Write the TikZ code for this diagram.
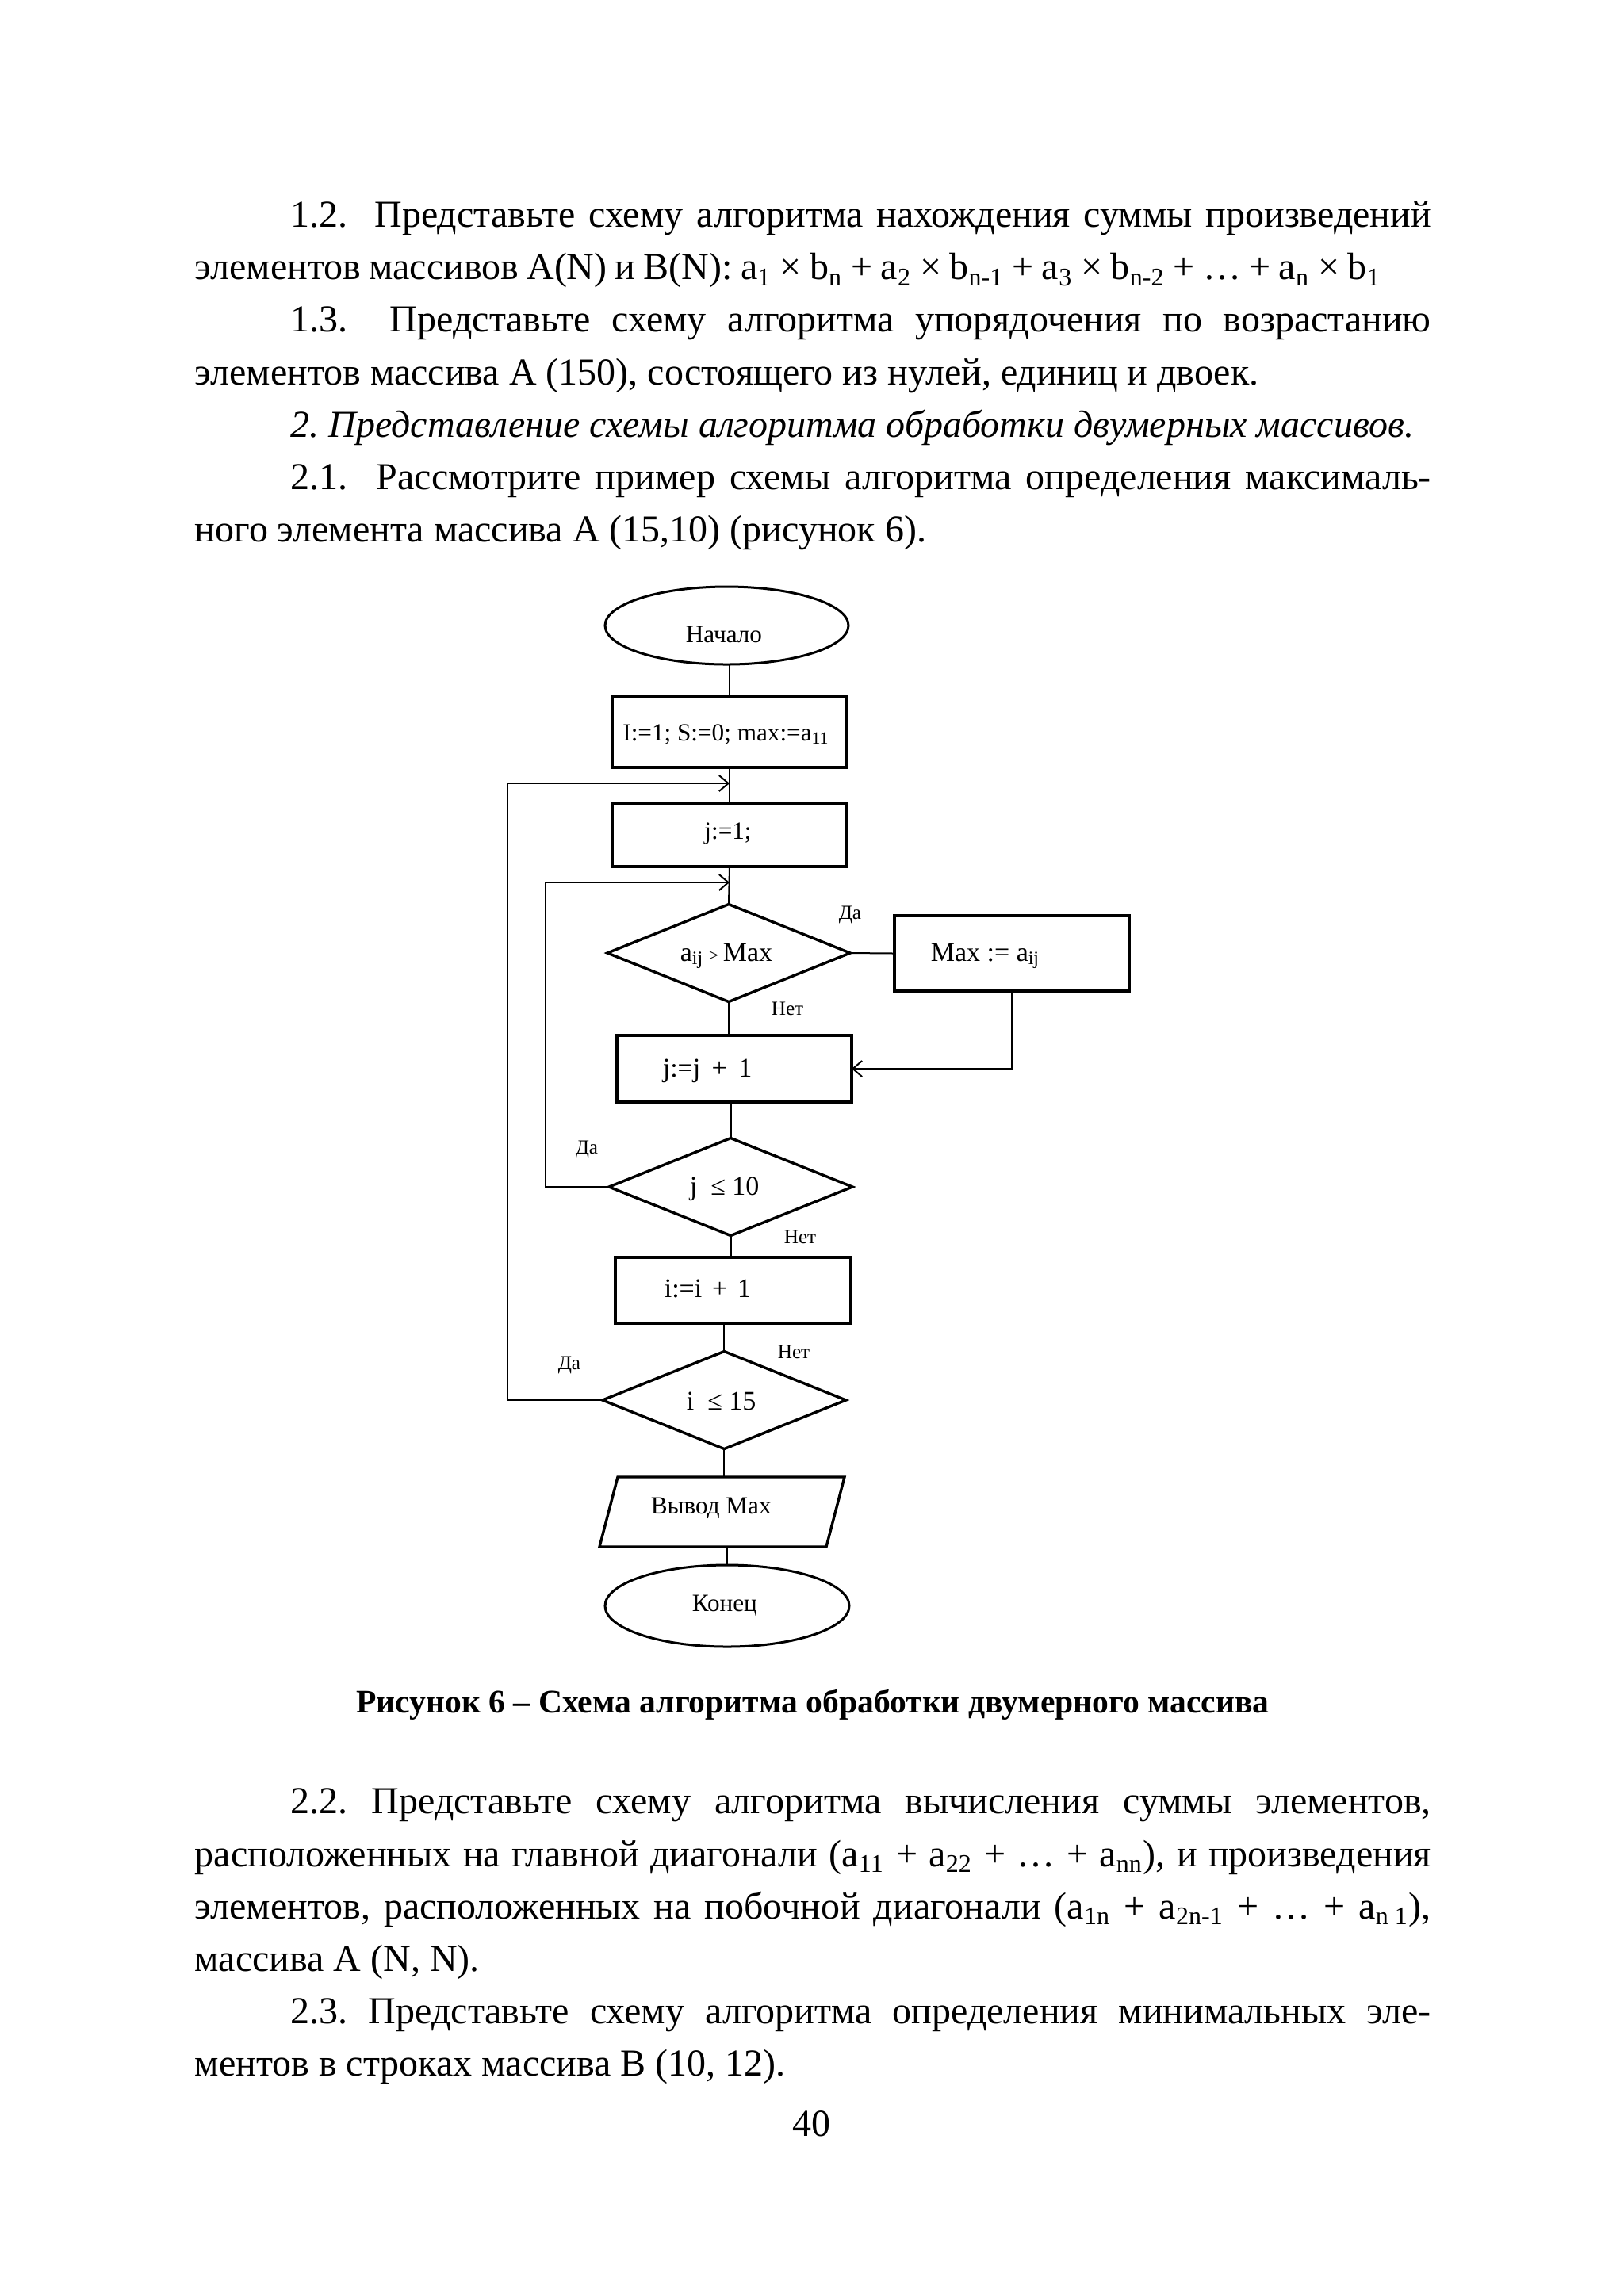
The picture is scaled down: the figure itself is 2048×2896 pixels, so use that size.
\documentclass[tikz,border=0pt]{standalone}
\usepackage{fontspec}
\setmainfont{Liberation Serif}
\usetikzlibrary{shapes.geometric,arrows.meta}
\newcommand\myBody{\fontsize{12pt}{14pt}\selectfont}
\newcommand\myCap{\fontsize{10.4pt}{12pt}\selectfont\bfseries}
\newcommand\myFlow{\fontsize{7.8pt}{9pt}\selectfont}
\newcommand\myFlowB{\fontsize{8.5pt}{10pt}\selectfont}
\newcommand\myLab{\fontsize{6.3pt}{7pt}\selectfont}
\frenchspacing
\begin{document}
\begin{tikzpicture}[x=0.25pt,y=-0.25pt,
  shp/.style={draw,line width=0.85pt,inner sep=0pt,outer sep=0pt},
  rbox/.style={shp,rectangle},
  oval/.style={shp,ellipse,line width=0.75pt},
  dia/.style={shp,diamond},
  conn/.style={line width=0.5pt},
  arr/.style={conn,-{Straight Barb[length=2.9pt,width=5pt]}},
  body/.style={anchor=base west,inner sep=0pt,font=\myBody},
  ft/.style={inner sep=0pt,font=\myFlow},
  ftb/.style={inner sep=0pt,font=\myFlowB},
  lab/.style={anchor=base west,inner sep=0pt,font=\myLab}]
\fill[white] (0,0) rectangle (2048,2896);
\useasboundingbox (0,0) rectangle (2048,2896);

% ---------- upper text ----------
\node[body] (l1) at (366,286.7) {\makebox[359.5pt][s]{1.2.\ \ Представьте схему алгоритма нахождения суммы произведений}};
\node[body] (l2) at (245,352.8) {\makebox[374pt][s]{элементов массивов A(N) и B(N): a\textsubscript{1} × b\textsubscript{n} + a\textsubscript{2} × b\textsubscript{n-1} + a\textsubscript{3} × b\textsubscript{n-2} + … + a\textsubscript{n} × b\textsubscript{1}}};
\node[body] (l3) at (366,418.9) {\makebox[359.5pt][s]{1.3.\ \ Представьте схему алгоритма упорядочения по возрастанию}};
\node[body] (l4) at (245,485) {элементов массива А (150), состоящего из нулей, единиц и двоек.};
\node[body] (l5) at (366,551.1) {\itshape 2. Представление схемы алгоритма обработки двумерных массивов.};
\node[body] (l6) at (366,617.3) {\makebox[359.5pt][s]{2.1.\ \ Рассмотрите пример схемы алгоритма определения максималь-}};
\node[body] (l7) at (245,683.4) {ного элемента массива А (15,10) (рисунок 6).};

% ---------- flowchart shapes ----------
\node[oval,minimum width=76.75pt,minimum height=24.5pt] (start) at (916.5,789) {};
\node[rbox,minimum width=74pt,minimum height=22.25pt] (b1) at (920,923.5) {};
\node[rbox,minimum width=74pt,minimum height=20pt] (b2) at (920,1053) {};
\node[dia,minimum width=76.5pt,minimum height=30.75pt] (d1) at (919,1202) {};
\node[rbox,minimum width=74pt,minimum height=23.75pt] (mx) at (1276,1202.5) {};
\node[rbox,minimum width=74pt,minimum height=21pt] (b3) at (926,1348) {};
\node[dia,minimum width=76.75pt,minimum height=30.75pt] (d2) at (921.5,1497) {};
\node[rbox,minimum width=74.25pt,minimum height=20.75pt] (b4) at (924.5,1627.5) {};
\node[dia,minimum width=76.75pt,minimum height=30.75pt] (d3) at (913.3,1766) {};
\node[inner sep=0pt,outer sep=0pt,minimum width=71.5pt,minimum height=22pt] (io) at (910.5,1907) {};
\draw[line width=0.85pt,line join=miter]
  ([xshift=-2.875pt]io.south west) -- ([xshift=-2.875pt]io.south east)
  -- ([xshift=2.875pt]io.north east) -- ([xshift=2.875pt]io.north west) -- cycle;
\node[oval,minimum width=77pt,minimum height=25.75pt] (end) at (917,2025.5) {};

% ---------- flowchart texts ----------
\node[ft,anchor=base] (tstart) at (913,810) {Начало};
\node[ft,anchor=base] (tb1) at (916,934) {I:=1; S:=0; max:=a\textsubscript{11}};
\node[ft,anchor=base] (tb2) at (918,1058) {j:=1;};
\node[ftb,anchor=base] (td1) at (916,1212) {a\textsubscript{ij}\,{\fontsize{5.5pt}{6pt}\selectfont >}\,Max};
\node[ftb,anchor=base west] (tmx) at (1173,1212) {Max := a\textsubscript{ij}};
\node[ftb,anchor=base west] (tb3) at (835,1358) {j:=j\hspace{3.6pt}+\hspace{3.6pt}1};
\node[ftb,anchor=base west] (td2) at (869,1507) {j \ ≤ 10};
\node[ftb,anchor=base west] (tb4) at (837,1636) {i:=i\hspace{3.2pt}+\hspace{3.2pt}1};
\node[ftb,anchor=base west] (td3) at (865,1778) {i \ ≤ 15};
\node[ft,anchor=base west] (tio) at (820,1909) {Вывод Max};
\node[ft,anchor=base west] (tend) at (872,2032) {Конец};

\node[lab] (ya1) at (1057,1159) {Да};
\node[lab] (no1) at (972,1280) {Нет};
\node[lab] (ya2) at (725,1455) {Да};
\node[lab] (no2) at (988,1568) {Нет};
\node[lab] (no3) at (980,1713) {Нет};
\node[lab] (ya3) at (703,1727) {Да};

% ---------- connectors ----------
\coordinate (m1) at (920,988);
\coordinate (m2) at (920,1113);
\draw[conn] (b1.north |- start.south) -- (b1.north);
\draw[conn] (b1.south) -- (b2.north);
\draw[conn] (b2.south) -- (d1.north);
\draw[conn] (d1.east) -- (mx.west);
\draw[arr] (mx.south) |- (b3.east);
\draw[conn] (d1.south) -- (d1.south |- b3.north);
\draw[conn] (b3.south -| d2.north) -- (d2.north);
\draw[conn] (d2.south) -- (d2.south |- b4.north);
\draw[conn] (b4.south -| d3.north) -- (d3.north);
\draw[conn] (d3.south) -- (d3.south |- io.north);
\draw[conn] (io.south -| end.north) -- (end.north);
\draw[arr] (d2.west) -- ++(-80.3,0) |- (m2);
\draw[arr] (d3.west) -- ++(-120,0) |- (m1);

% ---------- caption ----------
\node[inner sep=0pt,anchor=base,font=\myCap] (cap) at (1025,2160) {Рисунок 6 – Схема алгоритма обработки двумерного массива};

% ---------- lower text ----------
\node[body] (l8) at (366,2287.3) {\makebox[359.5pt][s]{2.2. Представьте схему алгоритма вычисления суммы элементов,}};
\node[body] (l9) at (245,2354) {\makebox[389.75pt][s]{расположенных на главной диагонали (a\textsubscript{11} + a\textsubscript{22} + … + a\textsubscript{nn}), и произведения}};
\node[body] (l10) at (245,2420) {\makebox[389.75pt][s]{элементов, расположенных на побочной диагонали (a\textsubscript{1n} + a\textsubscript{2n-1} + … + a\textsubscript{n 1}),}};
\node[body] (l11) at (245,2486) {массива А (N, N).};
\node[body] (l12) at (366,2552.7) {\makebox[359.5pt][s]{2.3. Представьте схему алгоритма определения минимальных эле-}};
\node[body] (l13) at (245,2618.3) {ментов в строках массива В (10, 12).};
\node[inner sep=0pt,anchor=base,font=\myBody] (pg) at (1023,2694) {40};
\end{tikzpicture}
\end{document}
